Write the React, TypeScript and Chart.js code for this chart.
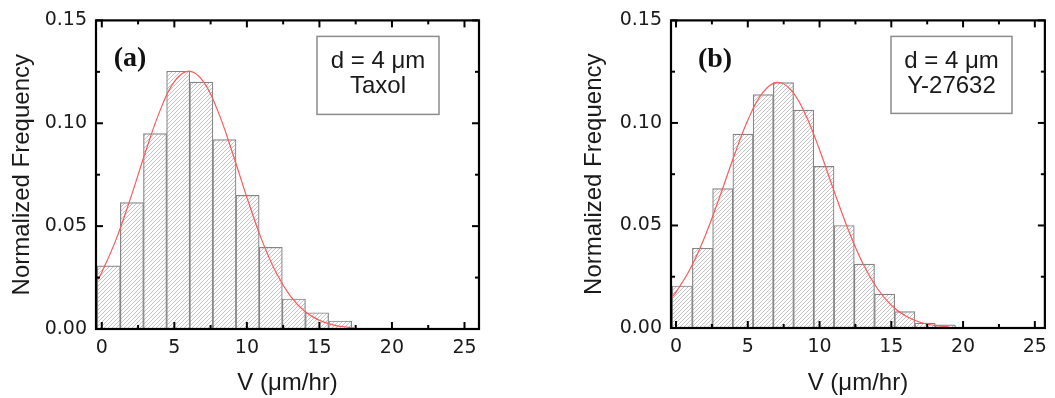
import React, { useEffect, useRef } from 'react';
import { Chart, registerables } from 'chart.js';

Chart.register(...registerables);

// ---------- data ----------
const X_MAJOR = [0, 5, 10, 15, 20, 25];
const X_MINOR = [2.5, 7.5, 12.5, 17.5, 22.5];
const Y_MAJOR = [0, 0.05, 0.1, 0.15];
const Y_MINOR = [0.025, 0.075, 0.125];

const X_TITLE = 'V (μm/hr)';
const Y_TITLE = 'Normalized Frequency';

// Panel (a) — Taxol
const A_TAG = '(a)';
const A_LEGEND = ['d = 4 μm', 'Taxol'];
const A_BIN_CENTERS = [0.48, 2.075, 3.67, 5.265, 6.86, 8.455, 10.05, 11.645, 13.24, 14.835, 16.43];
const A_FREQ = [0.0307, 0.0614, 0.095, 0.1253, 0.12, 0.0921, 0.065, 0.0397, 0.0146, 0.0079, 0.0039];
const A_FIT_X = [-0.4, 0, 1, 2, 3, 4, 5, 6, 7, 8, 9, 10, 11, 12, 13, 14, 15, 16, 17, 17.4];
const A_FIT_Y = [0.0224, 0.0276, 0.0438, 0.064, 0.0858, 0.1059, 0.1202, 0.1253, 0.1202, 0.1059, 0.0858, 0.064, 0.0438, 0.0276, 0.016, 0.0085, 0.0042, 0.0019, 0.0008, 0.0005];

// Panel (b) — Y-27632
const B_TAG = '(b)';
const B_LEGEND = ['d = 4 μm', 'Y-27632'];
const B_BIN_CENTERS = [0.435, 1.845, 3.255, 4.665, 6.075, 7.485, 8.895, 10.305, 11.715, 13.125, 14.535, 15.945, 17.355, 18.765];
const B_FREQ = [0.0205, 0.0389, 0.068, 0.0946, 0.1138, 0.1197, 0.1063, 0.0788, 0.05, 0.0312, 0.0165, 0.008, 0.0024, 0.0015];
const B_FIT_X = [-0.3, 0, 1, 2, 3, 4, 5, 6, 7, 8, 9, 10, 11, 12, 13, 14, 15, 16, 17, 18, 19];
const B_FIT_Y = [0.0148, 0.0175, 0.029, 0.0444, 0.0631, 0.083, 0.1013, 0.1144, 0.1198, 0.1161, 0.1044, 0.0869, 0.067, 0.0479, 0.0317, 0.0195, 0.0111, 0.0058, 0.0028, 0.0013, 0.0005];

// ---------- styling ----------
const TEXT_COLOR = '#1a1a1a';
const TICK_FONT = { family: '"DejaVu Sans", sans-serif', size: 19 };
const TITLE_FONT = { family: '"Liberation Sans", Arial, sans-serif', size: 24 };

const framePlugin = {
  id: 'frame',
  afterDraw(chart: any, _args: any, opts: any) {
    const { ctx, chartArea, scales } = chart;
    const { left, right, top, bottom } = chartArea;
    const x = scales.x;
    const y = scales.y;
    ctx.save();
    ctx.strokeStyle = '#000';
    ctx.lineWidth = 2;
    const seg = (x1: number, y1: number, x2: number, y2: number) => {
      ctx.beginPath();
      ctx.moveTo(x1, y1);
      ctx.lineTo(x2, y2);
      ctx.stroke();
    };
    const MAJ = 7;
    const MIN = 4;
    X_MAJOR.forEach((v) => {
      const p = x.getPixelForValue(v);
      seg(p, bottom, p, bottom - MAJ);
      seg(p, top, p, top + MAJ);
    });
    X_MINOR.forEach((v) => {
      const p = x.getPixelForValue(v);
      seg(p, bottom, p, bottom - MIN);
      seg(p, top, p, top + MIN);
    });
    Y_MAJOR.forEach((v) => {
      const p = y.getPixelForValue(v);
      seg(left, p, left + MAJ, p);
      seg(right, p, right - MAJ, p);
    });
    Y_MINOR.forEach((v) => {
      const p = y.getPixelForValue(v);
      seg(left, p, left + MIN, p);
      seg(right, p, right - MIN, p);
    });
    ctx.lineWidth = 2.2;
    ctx.strokeRect(left, top, right - left, bottom - top);

    // legend box
    const [bl, bt, bw, bh] = opts.box;
    ctx.lineWidth = 1.5;
    ctx.strokeStyle = '#8c8c8c';
    ctx.strokeRect(left + bl, top + bt, bw, bh);
    ctx.fillStyle = TEXT_COLOR;
    ctx.font = '24px "Liberation Sans", Arial, sans-serif';
    ctx.textAlign = 'center';
    ctx.textBaseline = 'middle';
    opts.lines.forEach((t: string, i: number) => {
      ctx.fillText(t, left + bl + bw / 2, top + bt + 25 + i * 25);
    });

    // panel tag
    ctx.font = 'bold 28px "Liberation Serif", "Times New Roman", serif';
    ctx.fillStyle = '#111';
    ctx.fillText(opts.tag, left + opts.tagPos[0], top + opts.tagPos[1]);
    ctx.restore();
  },
};

function makeHatch(ctx: CanvasRenderingContext2D) {
  const c = document.createElement('canvas');
  c.width = 4;
  c.height = 4;
  const g = c.getContext('2d') as CanvasRenderingContext2D;
  g.fillStyle = '#fdfdfd';
  g.fillRect(0, 0, 4, 4);
  g.strokeStyle = '#bdbdbd';
  g.lineWidth = 0.9;
  g.beginPath();
  g.moveTo(-1, 5);
  g.lineTo(5, -1);
  g.moveTo(-1, 1);
  g.lineTo(1, -1);
  g.moveTo(3, 5);
  g.lineTo(5, 3);
  g.stroke();
  return ctx.createPattern(c, 'repeat');
}

interface PanelSpec {
  centers: number[];
  freq: number[];
  fitX: number[];
  fitY: number[];
  xMin: number;
  xMax: number;
  width: number;
  padding: { left: number; top: number; right: number; bottom: number };
  xAxisHeight: number;
  yTitlePad: number;
  tag: string;
  tagPos: [number, number];
  lines: string[];
  box: [number, number, number, number];
}

function Panel({ spec, left }: { spec: PanelSpec; left: number }) {
  const ref = useRef<HTMLCanvasElement>(null);
  useEffect(() => {
    const canvas = ref.current as HTMLCanvasElement;
    const ctx = canvas.getContext('2d') as CanvasRenderingContext2D;
    const hatch = makeHatch(ctx);
    const chart = new Chart(canvas, {
      type: 'bar',
      data: {
        datasets: [
          {
            type: 'line',
            data: spec.fitX.map((x, i) => ({ x, y: spec.fitY[i] })),
            borderColor: '#ff5a5a',
            borderWidth: 1.2,
            pointRadius: 0,
            tension: 0.4,
            fill: false,
            order: 0,
          } as any,
          {
            type: 'bar',
            data: spec.centers.map((x, i) => ({ x, y: spec.freq[i] })),
            backgroundColor: hatch as any,
            borderColor: '#858585',
            borderWidth: 1.2,
            barPercentage: 1,
            categoryPercentage: 1,
            order: 1,
          } as any,
        ],
      },
      options: {
        animation: false,
        responsive: false,
        events: [],
        layout: { padding: spec.padding },
        plugins: {
          legend: { display: false },
          tooltip: { enabled: false },
          frame: { box: spec.box, lines: spec.lines, tag: spec.tag, tagPos: spec.tagPos },
        } as any,
        scales: {
          x: {
            type: 'linear',
            min: spec.xMin,
            max: spec.xMax,
            offset: false,
            grid: { display: false, drawTicks: false },
            border: { display: false },
            ticks: {
              stepSize: 5,
              includeBounds: false,
              padding: 8,
              maxRotation: 0,
              autoSkip: false,
              color: TEXT_COLOR,
              font: TICK_FONT,
              callback: (v: any) => String(v),
            },
            title: {
              display: true,
              text: X_TITLE,
              color: TEXT_COLOR,
              font: TITLE_FONT,
              padding: { top: 0, bottom: 0 },
            },
            afterFit: (s: any) => {
              s.height = spec.xAxisHeight;
            },
          } as any,
          y: {
            type: 'linear',
            min: 0,
            max: 0.15,
            grid: { display: false, drawTicks: false },
            border: { display: false },
            ticks: {
              stepSize: 0.05,
              padding: 9,
              color: TEXT_COLOR,
              font: TICK_FONT,
              callback: (v: any) => Number(v).toFixed(2),
            },
            title: {
              display: true,
              text: Y_TITLE,
              color: TEXT_COLOR,
              font: TITLE_FONT,
              padding: { top: spec.yTitlePad, bottom: 0 },
            },
            afterFit: (s: any) => {
              s.width = 96;
            },
          } as any,
        },
      },
      plugins: [framePlugin],
    });
    return () => chart.destroy();
  }, [spec]);
  return (
    <canvas
      ref={ref}
      width={spec.width}
      height={398}
      style={{ position: 'absolute', left, top: 0, width: spec.width, height: 398, display: 'block' }}
    />
  );
}

const SPEC_A: PanelSpec = {
  centers: A_BIN_CENTERS,
  freq: A_FREQ,
  fitX: A_FIT_X,
  fitY: A_FIT_Y,
  xMin: -0.4,
  xMax: 26,
  width: 527,
  padding: { left: 0, top: 17, right: 48, bottom: 0 },
  xAxisHeight: 69,
  yTitlePad: 8,
  tag: A_TAG,
  tagPos: [34, 38],
  lines: A_LEGEND,
  box: [221, 16, 122, 78],
};

const SPEC_B: PanelSpec = {
  centers: B_BIN_CENTERS,
  freq: B_FREQ,
  fitX: B_FIT_X,
  fitY: B_FIT_Y,
  xMin: -0.35,
  xMax: 25.7,
  width: 528,
  padding: { left: 48, top: 16, right: 3, bottom: 0 },
  xAxisHeight: 70,
  yTitlePad: 5,
  tag: B_TAG,
  tagPos: [44, 39],
  lines: B_LEGEND,
  box: [220, 16, 121, 77],
};

export default function App() {
  return (
    <div style={{ position: 'absolute', left: 0, top: 0, width: 1055, height: 398, background: '#fff', overflow: 'hidden' }}>
      <Panel spec={SPEC_A} left={0} />
      <Panel spec={SPEC_B} left={527} />
    </div>
  );
}
